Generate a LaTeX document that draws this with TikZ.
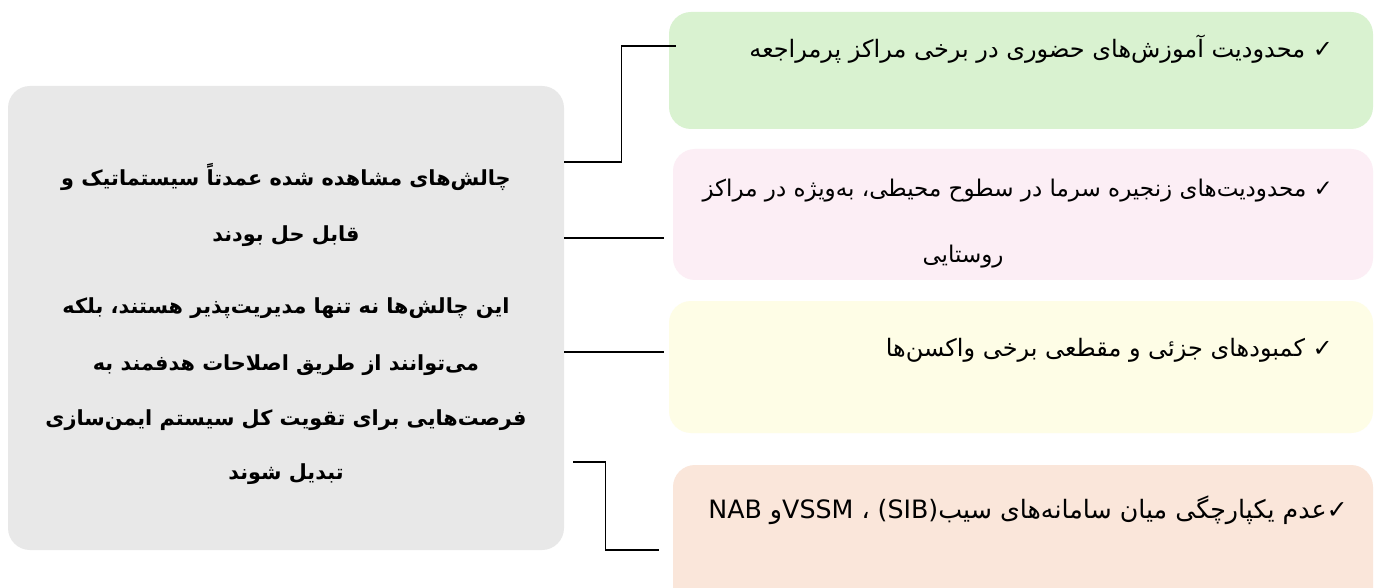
\documentclass[tikz,border=0pt]{standalone}
\usepackage{fontspec}
\TeXXeTstate=1
\newfontfamily\arfont[Script=Arabic]{DejaVu Sans}
\definecolor{boxgray}{HTML}{E8E8E8}
\definecolor{boxgreen}{HTML}{D9F2D0}
\definecolor{boxpink}{HTML}{FCEEF5}
\definecolor{boxyellow}{HTML}{FEFDE6}
\definecolor{boxpeach}{HTML}{FAE6DA}
\begin{document}
\begin{tikzpicture}[x=1pt,y=-1pt,
  panel/.style={rectangle, rounded corners=22pt, draw=none, inner sep=0pt},
  conn/.style={draw=black, line width=1.1pt},
  rtxt/.style={font=\arfont\fontsize{24}{29}\selectfont, inner sep=0pt, anchor=east},
  ctxt/.style={font=\arfont\fontsize{23}{28}\selectfont, inner sep=0pt},
  ltxt/.style={font=\arfont\bfseries\fontsize{20.8}{25}\selectfont, inner sep=0pt}]
\clip (0,0) rectangle (1374,588);
\fill[white] (0,0) rectangle (1374,588);
% panels
\node[panel, fill=boxgray,   minimum width=556pt, minimum height=464pt] (L)  at (286,318) {};
\node[panel, fill=boxgreen,  minimum width=704pt, minimum height=117pt] (B1) at (1021,70.5) {};
\node[panel, fill=boxpink,   minimum width=700pt, minimum height=131pt] (B2) at (1023,214.5) {};
\node[panel, fill=boxyellow, minimum width=704pt, minimum height=132pt] (B3) at (1021,367) {};
\node[panel, fill=boxpeach,  minimum width=700pt, minimum height=155pt] (B4) at (1023,542.5) {};
% connectors
\draw[conn] ([yshift=156pt]L.east) -- ++(57,0) |- ([xshift=7pt,yshift=24.5pt]B1.west);
\draw[conn] ([yshift=80pt]L.east) -- ([xshift=-9pt,yshift=-23.5pt]B2.west);
\draw[conn] ([yshift=-34pt]L.east) -- ([xshift=-5pt,yshift=15pt]B3.west);
\draw[conn] ([xshift=9pt,yshift=-144pt]L.east) -- ++(32,0) |- ([xshift=-14pt,yshift=-7.5pt]B4.west);
% right texts
\node[rtxt] (t1) at (1333,49) {\beginR ✓ محدودیت آموزش^^^^200cهای حضوری در برخی مراکز پرمراجعه\endR};
\node[rtxt, font=\arfont\fontsize{23}{28}\selectfont] (t2a) at (1333,191) {\beginR ✓ محدودیت^^^^200cهای زنجیره سرما در سطوح محیطی، به^^^^200cویژه در مراکز\endR};
\node[ctxt] (t2b) at (963,257) {\beginR روستایی\endR};
\node[rtxt] (t3) at (1333,350) {\beginR ✓ کمبودهای جزئی و مقطعی برخی واکسن^^^^200cها\endR};
\node[rtxt, font=\arfont\fontsize{25.3}{30}\selectfont] (t4) at (1348,510) {\beginR ✓عدم یکپارچگی میان سامانه^^^^200cهای سیب\beginL(SIB)\endL{} ، \beginL VSSM\endL{}و \beginL NAB\endL\endR};
% left texts
\node[ltxt] (l1) at (286,177) {\beginR چالش^^^^200cهای مشاهده شده عمدتاً سیستماتیک و\endR};
\node[ltxt] (l2) at (286,236) {\beginR قابل حل بودند\endR};
\node[ltxt] (l3) at (286,308) {\beginR این چالش^^^^200cها نه تنها مدیریت^^^^200cپذیر هستند، بلکه\endR};
\node[ltxt] (l4) at (286,365) {\beginR می^^^^200cتوانند از طریق اصلاحات هدفمند به\endR};
\node[ltxt] (l5) at (286,420) {\beginR فرصت^^^^200cهایی برای تقویت کل سیستم ایمن^^^^200cسازی\endR};
\node[ltxt] (l6) at (286,474) {\beginR تبدیل شوند\endR};
\end{tikzpicture}
\end{document}
